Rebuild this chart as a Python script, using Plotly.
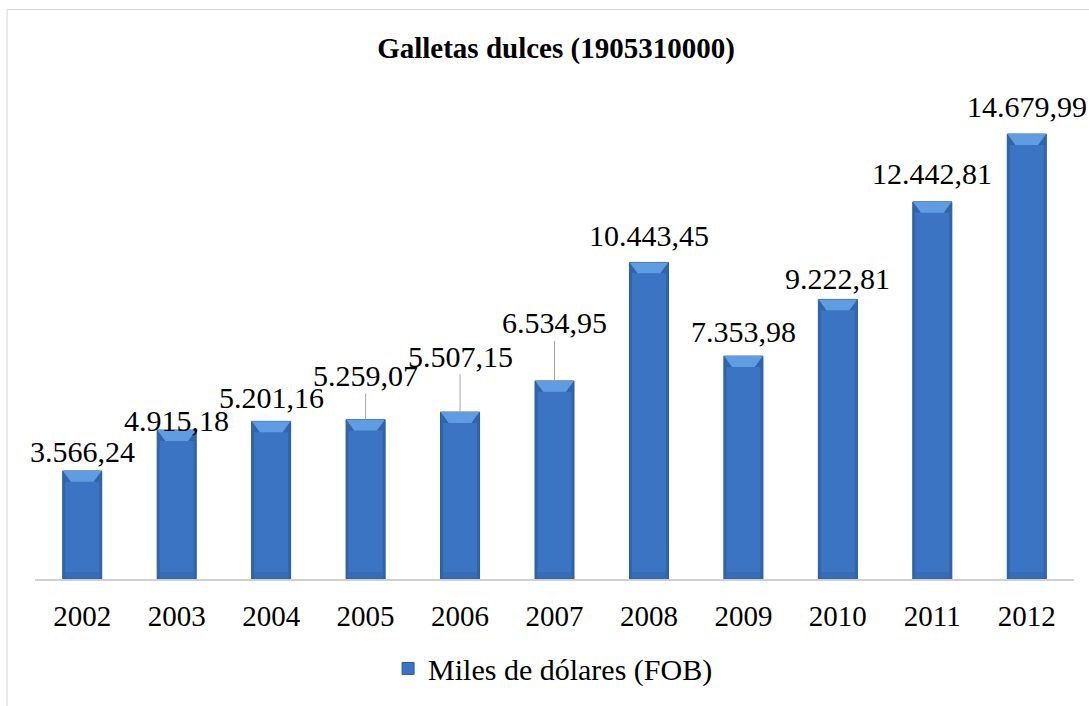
import plotly.graph_objects as go

# Exportaciones de galletas dulces, miles de dólares FOB
years = ["2002", "2003", "2004", "2005", "2006", "2007",
         "2008", "2009", "2010", "2011", "2012"]
values = [3566.24, 4915.18, 5201.16, 5259.07, 5507.15, 6534.95,
          10443.45, 7353.98, 9222.81, 12442.81, 14679.99]
labels = ["3.566,24", "4.915,18", "5.201,16", "5.259,07", "5.507,15", "6.534,95",
          "10.443,45", "7.353,98", "9.222,81", "12.442,81", "14.679,99"]

# label placement (pixel offset of the label centre above the bar top) and leader lines
label_offset_px = [-19, -10, -24, -44, -56, -58, -27, -25, -21, -28, -28]
leader_line = [False, False, False, True, True, True, False, False, False, False, False]

W, H = 1089, 706
ML, MR, MT, MB = 35, 15, 94, 124
YMAX = 16000
BAR_W = 0.413

FONT = "Liberation Serif"
FACE = "#3a74c3"
EDGE = "#2b5a98"
TOP = "#609ce2"
SIDE = "#2f60a2"
BOTTOM = "#3366aa"

idx = list(range(len(years)))

fig = go.Figure()
fig.add_trace(go.Bar(
    x=idx, y=values, width=BAR_W,
    name="Miles de dólares (FOB)",
    marker=dict(color=FACE, line=dict(color=EDGE, width=1)),
    hoverinfo="skip",
))

plot_w = W - ML - MR
plot_h = H - MT - MB
px_x = (len(years)) / plot_w          # x units per pixel
px_y = YMAX / plot_h                  # y units per pixel

# bevel highlights on each bar, built from the bar geometry
shapes = []
for i, v in zip(idx, values):
    x0, x1 = i - BAR_W / 2, i + BAR_W / 2
    dx = 8 * px_x
    dy = 11 * px_y
    sx = 2.5 * px_x
    by = 7 * px_y
    shapes.append(dict(
        type="path", xref="x", yref="y", layer="above",
        path=f"M{x0},{v} L{x1},{v} L{x1 - dx},{v - dy} L{x0 + dx},{v - dy} Z",
        fillcolor=TOP, line=dict(width=0),
    ))
    shapes.append(dict(
        type="path", xref="x", yref="y", layer="above",
        path=f"M{x0 + sx},{by} L{x1 - sx},{by} L{x1 - sx},0 L{x0 + sx},0 Z",
        fillcolor=BOTTOM, line=dict(width=0), opacity=0.5,
    ))
    shapes.append(dict(
        type="path", xref="x", yref="y", layer="above",
        path=f"M{x0},{v} L{x0 + dx},{v - dy} L{x0 + sx},{v - dy} L{x0 + sx},0 L{x0},0 Z",
        fillcolor=SIDE, line=dict(width=0), opacity=0.8,
    ))
    shapes.append(dict(
        type="path", xref="x", yref="y", layer="above",
        path=f"M{x1},{v} L{x1 - dx},{v - dy} L{x1 - sx},{v - dy} L{x1 - sx},0 L{x1},0 Z",
        fillcolor=SIDE, line=dict(width=0), opacity=0.8,
    ))

# outer chart border
shapes.append(dict(
    type="rect", xref="paper", yref="paper", layer="above",
    x0=(7 - ML) / plot_w, x1=(W + 10 - ML) / plot_w,
    y0=(plot_h + MT - H - 10) / plot_h, y1=(plot_h + MT - 9) / plot_h,
    line=dict(color="#d4d4d4", width=1), fillcolor="rgba(0,0,0,0)",
))

annotations = []
for i, v, t, off, lead in zip(idx, values, labels, label_offset_px, leader_line):
    annotations.append(dict(
        x=i, y=v, xref="x", yref="y", text=t,
        showarrow=True, ax=0, ay=off, arrowhead=0, arrowwidth=1,
        arrowcolor="#a6a6a6" if lead else "rgba(0,0,0,0)",
        font=dict(family=FONT, size=30, color="#000000"),
    ))

fig.update_layout(
    width=W, height=H,
    margin=dict(l=ML, r=MR, t=MT, b=MB),
    paper_bgcolor="white", plot_bgcolor="white",
    title=dict(
        text="<b>Galletas dulces (1905310000)</b>",
        x=556 / W, xanchor="center", y=1 - 48 / H, yanchor="middle",
        font=dict(family=FONT, size=29, color="#000000"),
    ),
    xaxis=dict(
        range=[-0.5, len(years) - 0.5],
        tickvals=idx, ticktext=years, ticks="",
        showline=True, linecolor="#d0d0d0", linewidth=1.5,
        showgrid=False, zeroline=False,
        tickfont=dict(family=FONT, size=29, color="#000000"),
        ticklabelstandoff=10,
    ),
    yaxis=dict(range=[0, YMAX], visible=False, showgrid=False, zeroline=False),
    showlegend=True,
    legend=dict(
        orientation="h", x=543 / W, xanchor="center",
        y=-(672 - (H - MB)) / plot_h, yanchor="middle",
        font=dict(family=FONT, size=30, color="#000000"),
        itemwidth=30,
    ),
    shapes=shapes,
    annotations=annotations,
    bargap=0.587,
)

fig.write_html("out.html")
